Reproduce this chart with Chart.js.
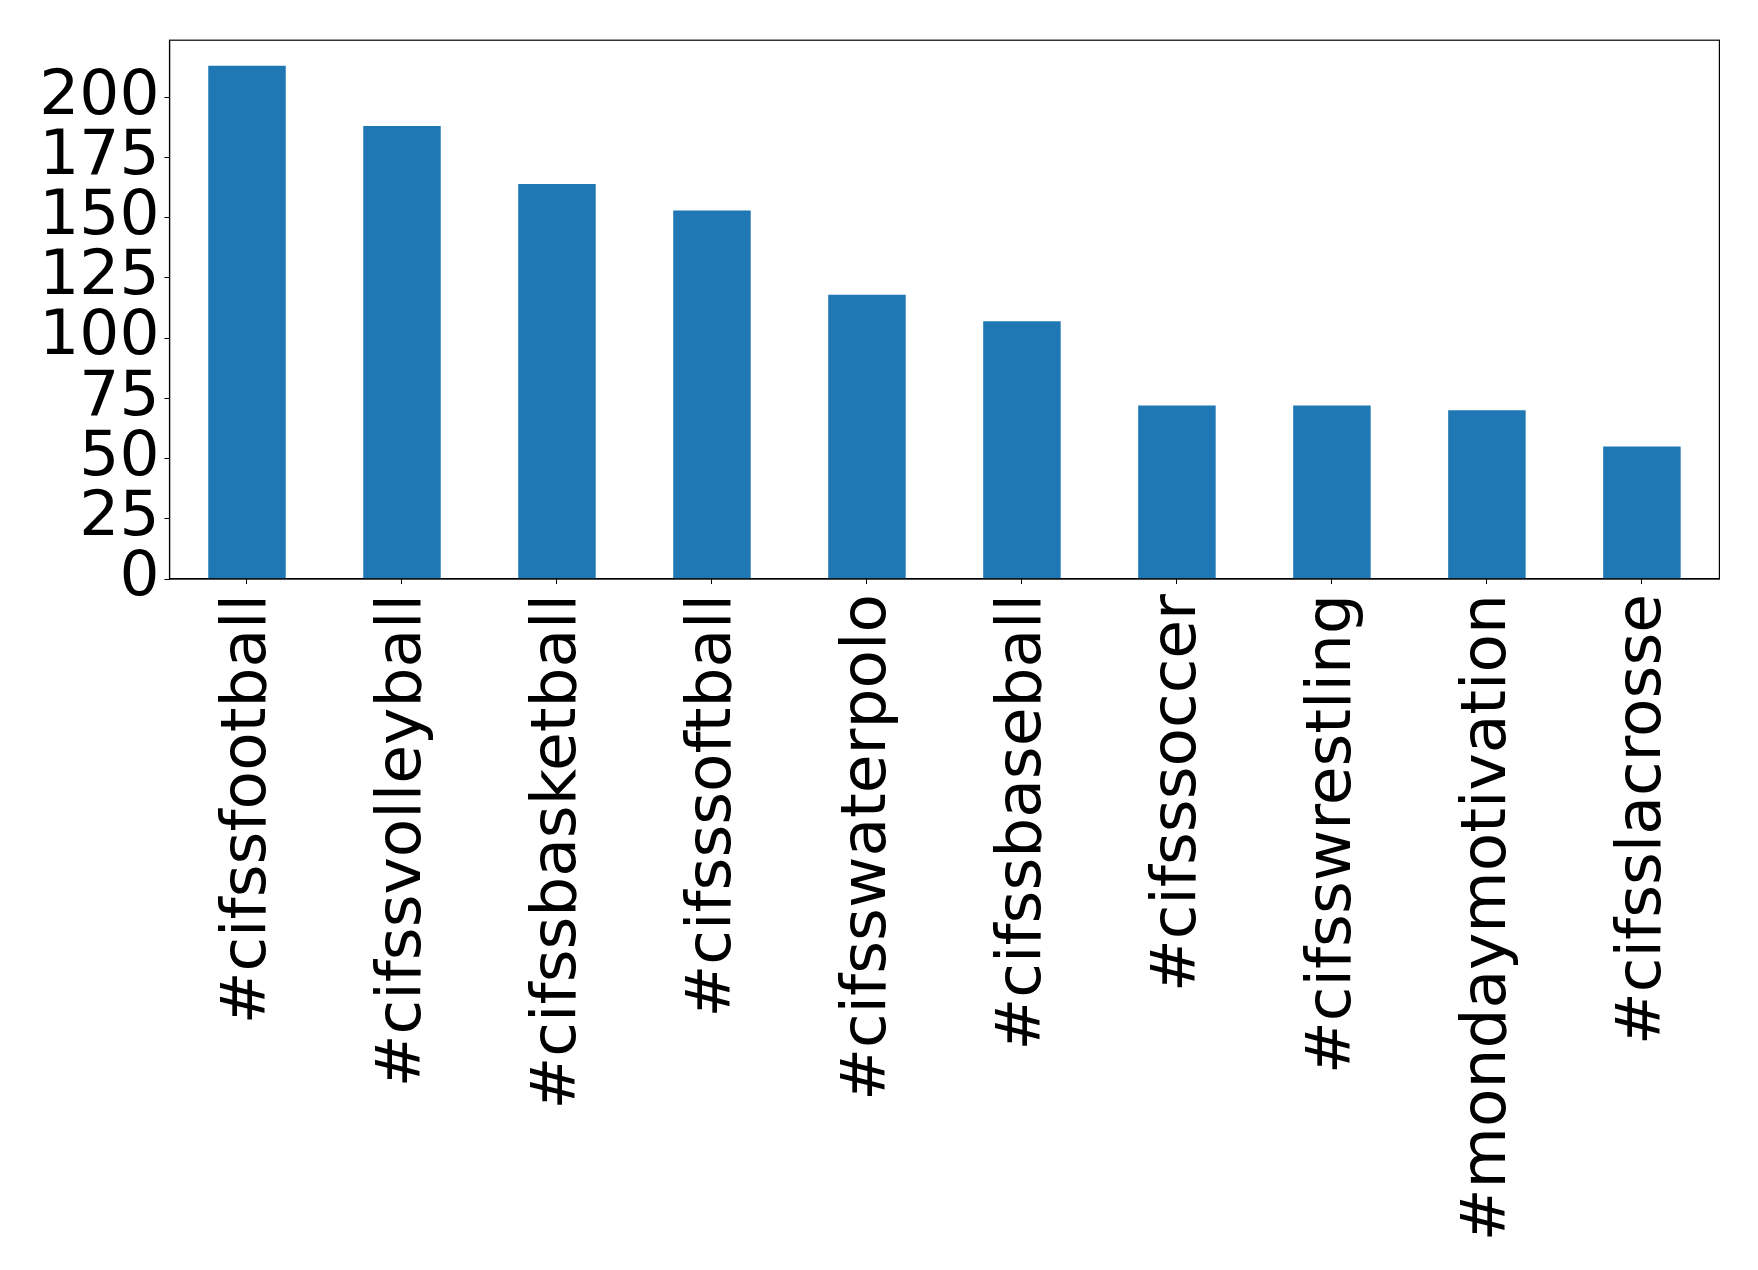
<!DOCTYPE html>
<html>
<head>
<meta charset="utf-8">
<script src="https://cdn.jsdelivr.net/npm/chart.js@4/dist/chart.umd.min.js"></script>
<style>
  html, body { margin: 0; padding: 0; background: #ffffff; }
  #wrap { width: 1758px; height: 1270px; position: relative; }
</style>
</head>
<body>
<div id="wrap"><canvas id="c" width="1758" height="1270"></canvas></div>
<script>
const categories = ["#cifssfootball", "#cifssvolleyball", "#cifssbasketball", "#cifsssoftball", "#cifsswaterpolo", "#cifssbaseball", "#cifsssoccer", "#cifsswrestling", "#mondaymotivation", "#cifsslacrosse"];
const counts = [213, 188, 164, 153, 118, 107, 72, 72, 70, 55];
const yTickStep = 25;
const yMax = 223.65;

const frame = {
  id: 'frame',
  afterDraw(chart) {
    const a = chart.chartArea, ctx = chart.ctx;
    ctx.save();
    ctx.strokeStyle = '#000';
    ctx.lineWidth = 1.2;
    ctx.strokeRect(a.left, a.top, a.right - a.left, a.bottom - a.top);
    ctx.restore();
  }
};

new Chart(document.getElementById('c'), {
  type: 'bar',
  data: {
    labels: categories,
    datasets: [{
      data: counts,
      backgroundColor: '#1f77b4',
      borderWidth: 0,
      barPercentage: 0.5,
      categoryPercentage: 1.0
    }]
  },
  options: {
    responsive: false,
    animation: false,
    devicePixelRatio: 1,
    layout: { padding: { top: 40.2, right: 38.6, left: 0, bottom: 0 } },
    plugins: { legend: { display: false }, tooltip: { enabled: false } },
    scales: {
      x: {
        offset: true,
        grid: { display: true, offset: false, drawOnChartArea: false, drawTicks: true, tickLength: 5, color: '#000' },
        border: { display: true, color: '#000', width: 1.2 },
        ticks: {
          autoSkip: false,
          maxRotation: 90,
          minRotation: 90,
          padding: 10,
          labelOffset: 2,
          color: '#000',
          font: { family: 'DejaVu Sans', size: 63 }
        },
        afterFit(scale) { scale.height = 691; scale.paddingLeft = 0; scale.paddingRight = 0; }
      },
      y: {
        min: 0,
        max: yMax,
        grid: { display: true, drawOnChartArea: false, drawTicks: true, tickLength: 5, color: '#000' },
        border: { display: true, color: '#000', width: 1.2 },
        ticks: {
          stepSize: yTickStep,
          includeBounds: false,
          autoSkip: false,
          padding: 5,
          color: '#000',
          font: { family: 'DejaVu Sans', size: 63 }
        },
        afterFit(scale) { scale.width = 169.5; scale.paddingTop = 0; scale.paddingBottom = 0; }
      }
    }
  },
  plugins: [frame]
});
</script>
</body>
</html>
